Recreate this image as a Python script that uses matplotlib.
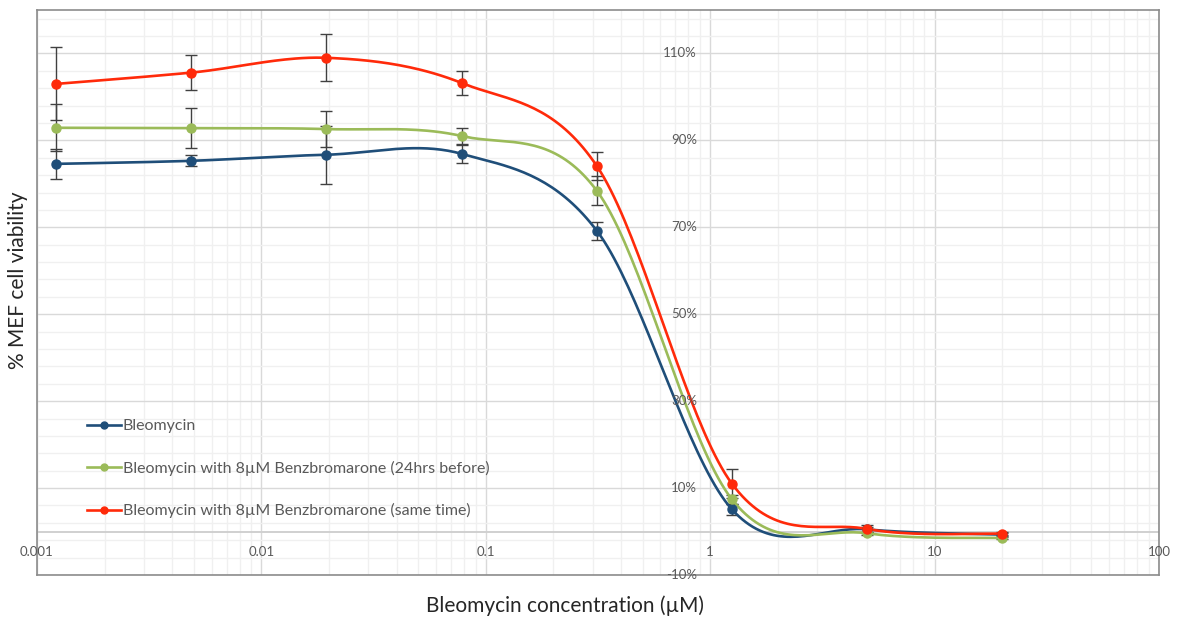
'''
Curva dosis-respuesta de bleomicina en celulas MEF
----------------------------------------------------------
Viabilidad celular (%) frente a la concentracion de bleomicina (escala log),
sola o con 8uM de benzbromarona (24 hrs antes / al mismo tiempo).
'''

import numpy as np
import matplotlib.pyplot as plt
from matplotlib.ticker import LogLocator, MultipleLocator, NullFormatter

plt.rcParams['font.family'] = ['Lato', 'DejaVu Sans']

# concentraciones (uM), diluciones 1:4 desde 20
conc = [0.00122, 0.00488, 0.0195, 0.0781, 0.3125, 1.25, 5, 20]

bleo = [84.6, 85.3, 86.7, 86.9, 69.2, 5.1, 0.5, -0.7]
bleo_err = [3.4, 1.3, 6.7, 2.1, 2.1, 1.3, 0.5, 0.3]

bleo_24h = [92.9, 92.8, 92.6, 91.0, 78.4, 7.4, -0.4, -1.5]
bleo_24h_err = [5.4, 4.6, 4.1, 1.8, 3.3, 1.0, 0.4, 0.3]

bleo_same = [103.0, 105.6, 109.0, 103.2, 84.1, 11.0, 0.6, -0.5]
bleo_same_err = [8.4, 4.0, 5.4, 2.7, 3.2, 3.3, 1.0, 0.4]

labels = ['Bleomycin',
          'Bleomycin with 8\u00b5M Benzbromarone (24hrs before)',
          'Bleomycin with 8\u00b5M Benzbromarone (same time)']
colors = ['#1F4E79', '#9BBB59', '#FF2A0A']

y_ticks = [-10, 10, 30, 50, 70, 90, 110]
x_ticks = [0.001, 0.01, 0.1, 1, 10, 100]
x_tick_labels = ['0.001', '0.01', '0.1', '1', '10', '100']


def smooth_line(x, y, sx=224.4, sy=4.346, n=40):
    '''
    Linea suavizada tipo Excel (Bezier Catmull-Rom) en espacio de pantalla.
    '''
    px = np.log10(x) * sx
    py = np.array(y) * sy
    pts = np.column_stack([px, py])
    pts = np.vstack([pts[0], pts, pts[-1]])
    out = []
    t = np.linspace(0, 1, n)[:, None]
    for i in range(1, len(pts) - 2):
        p0, p1, p2, p3 = pts[i - 1], pts[i], pts[i + 1], pts[i + 2]
        c1 = p1 + (p2 - p0) / 6
        c2 = p2 - (p3 - p1) / 6
        seg = ((1 - t) ** 3) * p1 + 3 * ((1 - t) ** 2) * t * c1 + 3 * (1 - t) * t ** 2 * c2 + t ** 3 * p2
        out.append(seg)
    out = np.vstack(out)
    return 10 ** (out[:, 0] / sx), out[:, 1] / sy


fig = plt.figure(figsize=(11.85, 6.22), dpi=100)
ax = fig.add_axes([37 / 1185, 1 - 575 / 622, 1122 / 1185, 565 / 622])

ax.set_xscale('log')
ax.set_xlim(0.001, 100)
ax.set_ylim(-10, 120)

# rejilla
ax.xaxis.set_major_locator(LogLocator(base=10))
ax.xaxis.set_minor_locator(LogLocator(base=10, subs=np.arange(2, 10)))
ax.xaxis.set_minor_formatter(NullFormatter())
ax.set_yticks(y_ticks)
ax.yaxis.set_minor_locator(MultipleLocator(4, offset=2))
ax.grid(True, which='major', color='#D9D9D9', lw=1.0, zorder=0)
ax.grid(True, which='minor', color='#F0F0F0', lw=1.0, zorder=0)
ax.set_axisbelow(True)
ax.tick_params(which='both', length=0, labelbottom=False, labelleft=False)

for s in ax.spines.values():
    s.set_color('#8C8C8C')
    s.set_linewidth(1.2)

# eje horizontal en 0%
ax.axhline(0, color='#D0D0D0', lw=1.4, zorder=1)

series = [(bleo, bleo_err), (bleo_24h, bleo_24h_err), (bleo_same, bleo_same_err)]
for (vals, err), lab, col in zip(series, labels, colors):
    ax.errorbar(conc, vals, yerr=err, fmt='none', ecolor='#404040',
                elinewidth=1.0, capsize=4, capthick=1.0, zorder=2)
    sx, sy = smooth_line(conc, vals)
    ax.plot(sx, sy, color=col, lw=1.9, zorder=3)
    ax.plot(conc, vals, 'o', color=col, ms=6.5, zorder=4)
    ax.plot([], [], '-o', color=col, lw=1.9, ms=5, label=lab)

# etiquetas de los ejes, junto a x=1 e y=0
for v in y_ticks:
    ax.annotate(f'{v}%', (1, v), xytext=(-9.5, 0), textcoords='offset points',
                ha='right', va='center', fontsize=9.5, color='#595959')
for v, t in zip(x_ticks, x_tick_labels):
    ax.annotate(t, (v, 0), xytext=(0, -15), textcoords='offset points',
                ha='center', va='center', fontsize=9.5, color='#595959')

ax.legend(loc='upper left', bbox_to_anchor=((87 - 37) / 1122, (575 - 419) / 565),
          frameon=False, fontsize=11.5, labelcolor='#595959', handlelength=2.1,
          handletextpad=0.15, labelspacing=1.72, borderpad=0, borderaxespad=0,
          numpoints=1)

fig.text(18 / 1185, 1 - 280 / 622, '% MEF cell viability', rotation=90,
         ha='center', va='center', fontsize=15, color='#262626')
fig.text(565 / 1185, 1 - 606 / 622, 'Bleomycin concentration (\u00b5M)',
         ha='center', va='center', fontsize=15, color='#262626')

fig.savefig('out.png', dpi=100, facecolor='white')
